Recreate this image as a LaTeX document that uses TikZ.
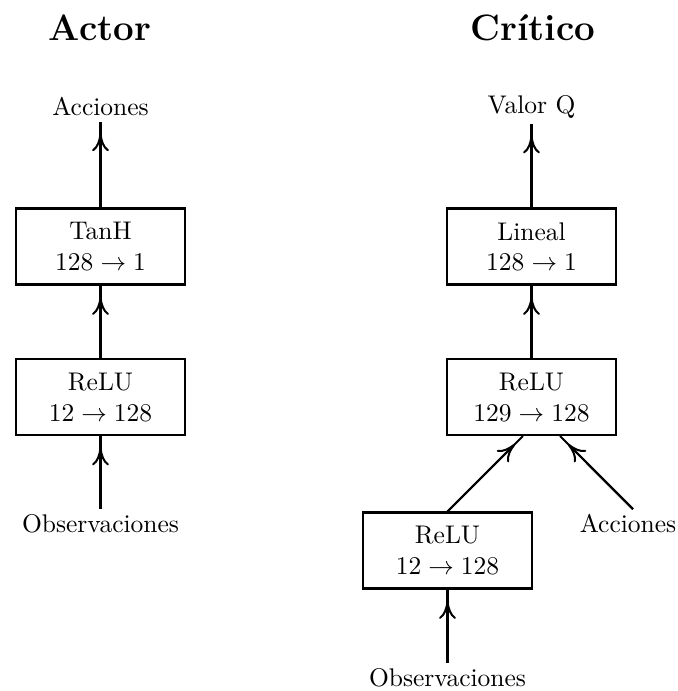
\documentclass[tikz,border=0pt]{standalone}
\usetikzlibrary{arrows.meta}
\begin{document}
\begin{tikzpicture}[x=0.392pt,y=-0.392pt,
  layer/.style={draw,line width=0.8pt,minimum width=169*0.392pt,minimum height=76*0.392pt,align=center,inner sep=0pt},
  lbl/.style={inner sep=2pt},
  title/.style={font=\Large\bfseries},
  conn/.style={line width=0.8pt,postaction={draw,line width=0.8pt,shorten >=4.5pt,-{To[length=7pt,width=6.6pt,line width=0.8pt]}}}]
\useasboundingbox (0,0) rectangle (678,691);
\node[title] (ta) at (100,28) {Actor};
\node[title] (tc) at (533,28) {Crítico};
% Actor
\node[lbl] (aout) at (100.5,107) {Acciones};
\node[layer] (atanh) at (100.5,246.5) {TanH\\$128\rightarrow1$};
\node[layer] (arelu) at (100.5,397) {ReLU\\$12\rightarrow128$};
\node[lbl] (aobs) at (100.5,524) {Observaciones};
\draw[conn] (aobs.north) -- (arelu.south);
\draw[conn] (arelu.north) -- (atanh.south);
\draw[conn] (atanh.north) -- (aout.south);
% Critic
\node[lbl] (cout) at (531.5,107) {Valor Q};
\node[layer] (clin) at (531.5,246.5) {Lineal\\$128\rightarrow1$};
\node[layer] (crelu) at (531.5,397) {ReLU\\$129\rightarrow128$};
\node[layer] (crelu2) at (447.5,550.5) {ReLU\\$12\rightarrow128$};
\node[lbl] (cacc) at (628,524) {Acciones};
\node[lbl] (cobs) at (447.5,678) {Observaciones};
\draw[conn] (cobs.north) -- (crelu2.south);
\draw[conn] (crelu2.north) -- ([xshift=-8.5*0.392pt]crelu.south);
\draw[conn] ([xshift=5*0.392pt]cacc.north) -- ([xshift=28.5*0.392pt]crelu.south);
\draw[conn] (crelu.north) -- (clin.south);
\draw[conn] (clin.north) -- (cout.south);
\end{tikzpicture}
\end{document}
